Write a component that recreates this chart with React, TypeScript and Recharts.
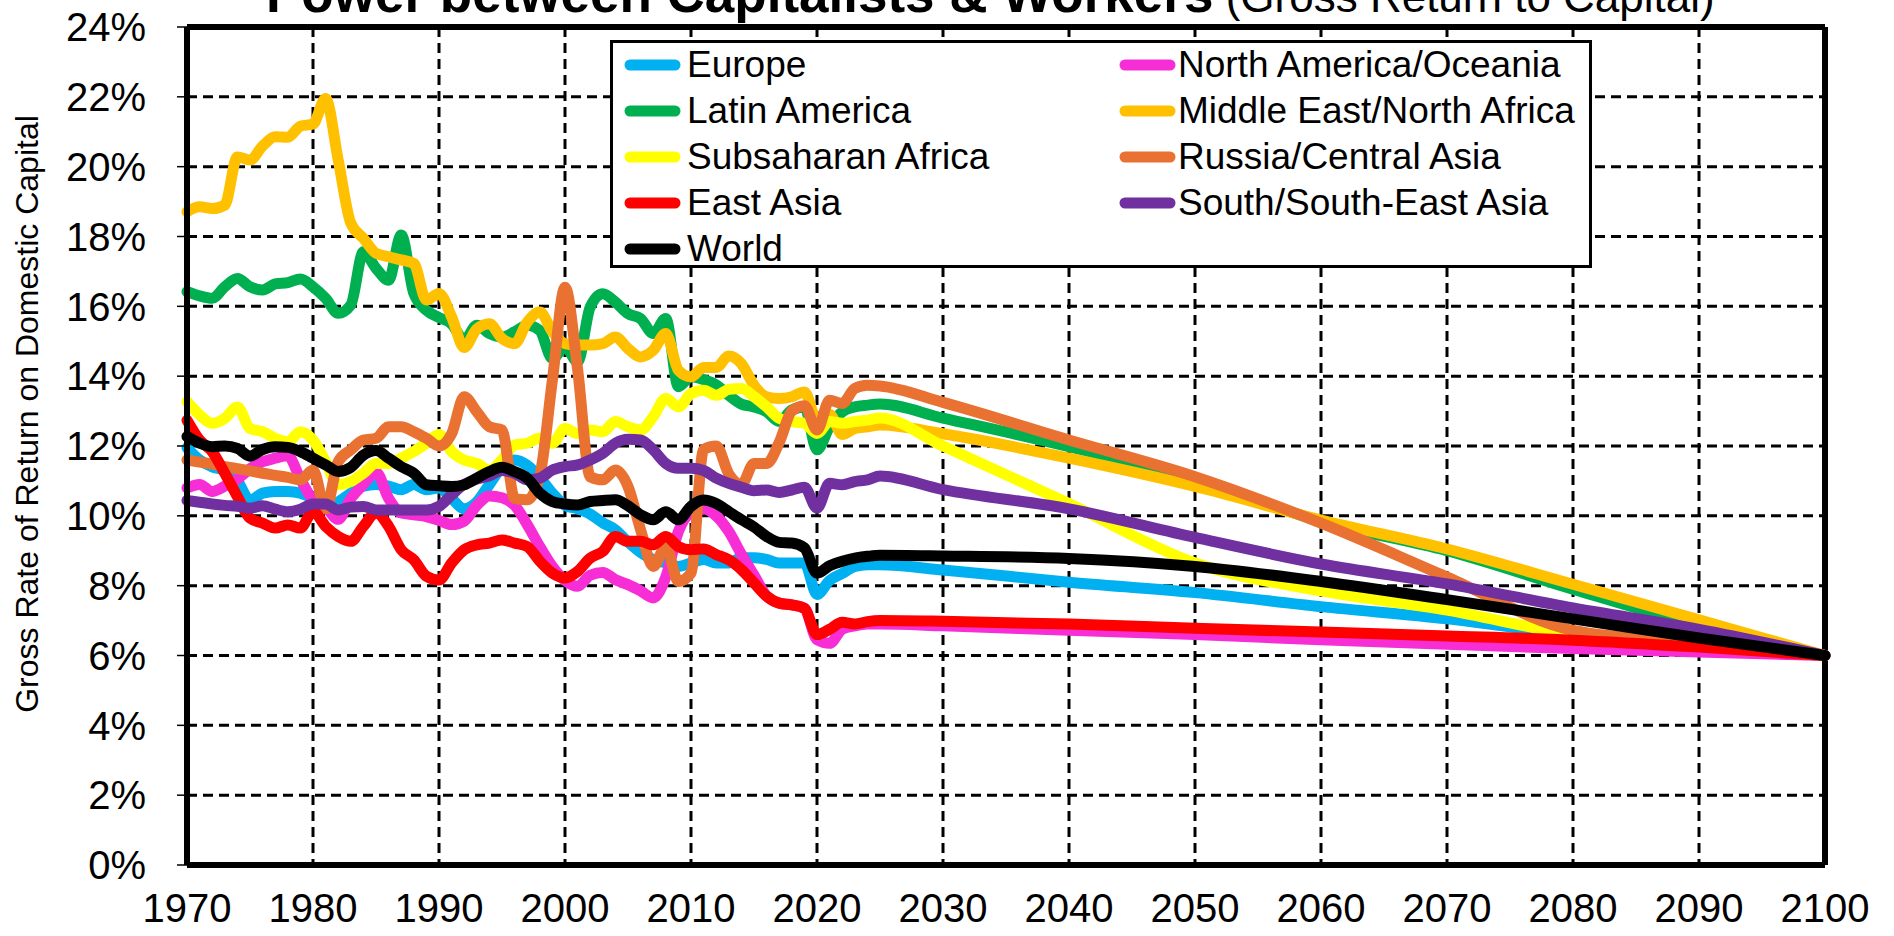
import React from 'react';
import { LineChart, Line, XAxis, YAxis, CartesianGrid, Legend, ReferenceLine, Customized } from 'recharts';

const FONT = '"Liberation Sans", Arial, sans-serif';

// annual history 1970-2025, then the projection points
const years = [
  1970, 1971, 1972, 1973, 1974, 1975, 1976, 1977, 1978, 1979,
  1980, 1981, 1982, 1983, 1984, 1985, 1986, 1987, 1988, 1989,
  1990, 1991, 1992, 1993, 1994, 1995, 1996, 1997, 1998, 1999,
  2000, 2001, 2002, 2003, 2004, 2005, 2006, 2007, 2008, 2009,
  2010, 2011, 2012, 2013, 2014, 2015, 2016, 2017, 2018, 2019,
  2020, 2021, 2022, 2023, 2024, 2025,
  2030, 2040, 2050, 2060, 2070, 2080, 2090, 2100,
];

const europe = [
  11.95, 11.6, 11.4, 11.3, 11.0, 10.45, 10.65, 10.7, 10.7, 10.65,
  10.5, 10.3, 10.4, 10.65, 10.85, 10.9, 10.85, 10.75, 10.9, 10.75,
  10.8, 10.5, 10.2, 10.4, 10.9, 11.4, 11.6, 11.45, 11.1, 10.65,
  10.3, 10.2, 10.05, 9.8, 9.6, 9.25, 8.95, 8.75, 8.65, 8.55,
  8.65, 8.75, 8.65, 8.65, 8.8, 8.8, 8.75, 8.65, 8.65, 8.65,
  7.75, 8.15, 8.35, 8.55, 8.6, 8.6,
  8.45, 8.1, 7.8, 7.4, 7.05, 6.6, 6.3, 6.0,
];

const northAmerica = [
  10.8, 10.9, 10.7, 10.85, 11.05, 11.35, 11.55, 11.65, 11.72, 11.05,
  10.45, 10.25, 9.9, 10.5, 10.9, 11.25, 10.5, 10.08, 10.03, 9.98,
  9.87, 9.75, 9.85, 10.3, 10.57, 10.52, 10.3, 9.75, 9.12, 8.55,
  8.15, 7.98, 8.3, 8.38, 8.17, 8.03, 7.85, 7.65, 8.25, 9.55,
  10.1, 10.2, 10.0, 9.55, 8.9, 8.3, 7.7, 7.5, 7.45, 7.35,
  6.45, 6.35, 6.75, 6.85, 6.9, 6.9,
  6.85, 6.72, 6.6, 6.45, 6.32, 6.2, 6.1, 6.0,
];

const latinAmerica = [
  16.42, 16.3, 16.23, 16.56, 16.8, 16.56, 16.47, 16.64, 16.68, 16.78,
  16.56, 16.23, 15.8, 16.04, 17.56, 17.09, 16.75, 18.04, 16.37, 15.89,
  15.68, 15.5, 15.03, 15.46, 15.22, 15.12, 15.27, 15.46, 15.31, 14.5,
  14.84, 14.41, 15.98, 16.36, 16.12, 15.79, 15.65, 15.22, 15.65, 13.7,
  13.98, 13.9, 13.75, 13.45, 13.2, 13.12, 12.98, 12.7, 13.03, 13.12,
  11.89, 12.55, 12.98, 13.12, 13.17, 13.2,
  12.8, 11.98, 11.03, 9.84, 9.0, 7.9, 6.85, 6.0,
];

const middleEast = [
  18.71, 18.85, 18.8, 18.9, 20.28, 20.19, 20.59, 20.86, 20.84, 21.16,
  21.22, 21.95, 20.19, 18.38, 17.95, 17.52, 17.42, 17.33, 17.23, 16.18,
  16.37, 15.7, 14.82, 15.35, 15.5, 15.08, 14.93, 15.55, 15.84, 15.27,
  14.93, 14.89, 14.89, 14.93, 15.12, 14.79, 14.55, 14.74, 15.22, 14.17,
  13.98, 14.25, 14.25, 14.58, 14.36, 13.74, 13.41, 13.36, 13.41, 13.55,
  12.74, 12.9, 12.33, 12.5, 12.55, 12.6,
  12.35, 11.65, 10.84, 9.88, 9.05, 8.04, 7.02, 6.0,
];

const subsaharan = [
  13.27, 12.89, 12.65, 12.79, 13.12, 12.5, 12.41, 12.22, 12.12, 12.41,
  12.17, 11.55, 10.89, 10.98, 11.22, 11.5, 11.5, 11.65, 11.84, 12.08,
  12.33, 11.84, 11.6, 11.5, 11.31, 11.6, 12.03, 12.08, 12.22, 12.08,
  12.5, 12.36, 12.46, 12.41, 12.7, 12.55, 12.46, 12.84, 13.36, 13.12,
  13.5, 13.6, 13.45, 13.62, 13.65, 13.41, 13.12, 12.79, 12.7, 12.65,
  12.36, 12.7, 12.65, 12.7, 12.74, 12.8,
  12.0, 10.35, 8.65, 7.85, 7.3, 6.6, 6.3, 6.0,
];

const russia = [
  11.6, 11.54, 11.48, 11.41, 11.35, 11.29, 11.22, 11.16, 11.1, 11.03,
  11.31, 10.2, 11.55, 11.89, 12.17, 12.22, 12.55, 12.55, 12.41, 12.22,
  12.0, 12.35, 13.41, 12.98, 12.55, 12.46, 10.5, 10.46, 11.15, 13.89,
  16.55, 14.2, 11.12, 11.03, 11.31, 10.84, 9.6, 8.55, 9.12, 8.12,
  8.36, 11.9, 12.0, 11.2, 10.9, 11.5, 11.5, 12.1, 13.0, 13.15,
  12.46, 13.31, 13.22, 13.65, 13.74, 13.72,
  13.25, 12.17, 11.12, 9.79, 8.25, 6.72, 6.36, 6.0,
];

const eastAsia = [
  12.74, 12.17, 11.84, 11.22, 10.55, 9.93, 9.79, 9.65, 9.74, 9.65,
  10.12, 9.7, 9.41, 9.27, 9.7, 10.08, 9.7, 9.03, 8.74, 8.27,
  8.16, 8.65, 9.03, 9.17, 9.22, 9.31, 9.22, 9.12, 8.7, 8.36,
  8.22, 8.41, 8.79, 8.98, 9.41, 9.27, 9.27, 9.17, 9.41, 9.12,
  9.03, 9.05, 8.89, 8.74, 8.46, 8.08, 7.7, 7.5, 7.45, 7.35,
  6.6, 6.75, 6.95, 6.9, 6.97, 7.0,
  6.98, 6.9, 6.78, 6.67, 6.56, 6.44, 6.24, 6.0,
];

const southAsia = [
  10.44, 10.39, 10.34, 10.3, 10.27, 10.22, 10.29, 10.19, 10.12, 10.19,
  10.34, 10.34, 10.17, 10.25, 10.27, 10.17, 10.17, 10.17, 10.17, 10.17,
  10.27, 10.6, 10.9, 11.05, 11.15, 11.3, 11.22, 11.03, 11.08, 11.31,
  11.41, 11.46, 11.6, 11.79, 12.08, 12.19, 12.17, 11.89, 11.5, 11.36,
  11.36, 11.3, 11.08, 10.93, 10.82, 10.72, 10.74, 10.67, 10.74, 10.82,
  10.22, 10.93, 10.89, 10.98, 11.03, 11.14,
  10.75, 10.2, 9.38, 8.62, 8.05, 7.36, 6.75, 6.0,
];

const world = [
  12.27, 12.08, 11.98, 12.0, 11.93, 11.71, 11.9, 11.98, 11.96, 11.84,
  11.65, 11.46, 11.27, 11.39, 11.74, 11.87, 11.65, 11.41, 11.22, 10.89,
  10.86, 10.84, 10.89, 11.08, 11.27, 11.39, 11.27, 11.08, 10.65, 10.41,
  10.34, 10.31, 10.41, 10.44, 10.46, 10.29, 10.03, 9.89, 10.12, 9.89,
  10.27, 10.45, 10.35, 10.12, 9.89, 9.68, 9.41, 9.24, 9.22, 9.08,
  8.36, 8.57, 8.7, 8.79, 8.84, 8.87,
  8.85, 8.78, 8.55, 8.12, 7.6, 7.05, 6.5, 6.0,
];

const xTicks = [1970, 1980, 1990, 2000, 2010, 2020, 2030, 2040, 2050, 2060, 2070, 2080, 2090, 2100];
const yTicks = [0, 2, 4, 6, 8, 10, 12, 14, 16, 18, 20, 22, 24];

// drawing order matches the original workbook (World on top)
const series = [
  { key: 'europe', name: 'Europe', color: '#00B0F0', values: europe },
  { key: 'northAmerica', name: 'North America/Oceania', color: '#F72DD6', values: northAmerica },
  { key: 'latinAmerica', name: 'Latin America', color: '#00B050', values: latinAmerica },
  { key: 'middleEast', name: 'Middle East/North Africa', color: '#FFC000', values: middleEast },
  { key: 'subsaharan', name: 'Subsaharan Africa', color: '#FFFF00', values: subsaharan },
  { key: 'russia', name: 'Russia/Central Asia', color: '#E97132', values: russia },
  { key: 'eastAsia', name: 'East Asia', color: '#FF0000', values: eastAsia },
  { key: 'southAsia', name: 'South/South-East Asia', color: '#7030A0', values: southAsia },
  { key: 'world', name: 'World', color: '#000000', values: world },
];

const data = years.map((year, i) => {
  const row: Record<string, number> = { year };
  series.forEach(s => {
    row[s.key] = s.values[i];
  });
  return row;
});

// legend is laid out in two columns, left column first
const legendLeft = ['europe', 'latinAmerica', 'subsaharan', 'eastAsia', 'world'];
const legendRight = ['northAmerica', 'middleEast', 'russia', 'southAsia'];

const LegendBox = () => {
  const entry = (key: string, row: number, col: number) => {
    const s = series.find(item => item.key === key)!;
    const swatchLeft = col === 0 ? 12 : 507;
    const textLeft = col === 0 ? 74 : 565;
    const cy = 21.6 + row * 46.2;
    return (
      <React.Fragment key={key}>
        <svg
          width={60}
          height={14}
          style={{ position: 'absolute', left: swatchLeft - 3, top: cy - 7, overflow: 'visible' }}
        >
          <line x1={8} y1={7} x2={53} y2={7} stroke={s.color} strokeWidth={11} strokeLinecap="round" />
        </svg>
        <div
          style={{
            position: 'absolute',
            left: textLeft,
            top: cy - 22,
            height: 44,
            lineHeight: '44px',
            fontSize: 37,
            fontFamily: FONT,
            color: '#000',
            whiteSpace: 'nowrap',
          }}
        >
          {s.name}
        </div>
      </React.Fragment>
    );
  };

  return (
    <div
      style={{
        position: 'relative',
        width: 982,
        height: 228,
        boxSizing: 'border-box',
        border: '3px solid #000',
        background: '#fff',
      }}
    >
      {legendLeft.map((k, i) => entry(k, i, 0))}
      {legendRight.map((k, i) => entry(k, i, 1))}
    </div>
  );
};

const Labels = () => (
  <g>
    <text x={266} y={12} fontFamily={FONT} fill="#000">
      <tspan fontSize={53} fontWeight="bold">Power between Capitalists &amp; Workers</tspan>
      <tspan fontSize={44}> (Gross Return to Capital)</tspan>
    </text>
    <text
      x={27}
      y={414}
      transform="rotate(-90, 27, 414)"
      textAnchor="middle"
      dominantBaseline="central"
      fontFamily={FONT}
      fontSize={32}
      fill="#000"
    >
      Gross Rate of Return on Domestic Capital
    </text>
  </g>
);

const App: React.FC = () => {
  return (
    <div style={{ position: 'absolute', left: 0, top: 0, width: 1894, height: 936, background: '#fff' }}>
      <LineChart
        width={1894}
        height={936}
        data={data}
        margin={{ top: 27, right: 69, bottom: 0, left: 0 }}
      >
        <CartesianGrid stroke="#000" strokeWidth={3} strokeDasharray="10 6" />
        <XAxis
          dataKey="year"
          type="number"
          domain={[1970, 2100]}
          ticks={xTicks}
          interval={0}
          height={71}
          tickLine={false}
          tickSize={10}
          tickMargin={19}
          axisLine={{ stroke: '#000', strokeWidth: 6 }}
          tick={{ fill: '#000', fontSize: 40, fontFamily: FONT }}
        />
        <YAxis
          type="number"
          domain={[0, 24]}
          ticks={yTicks}
          interval={0}
          width={187}
          tickSize={10}
          tickMargin={31}
          tickFormatter={(v: number) => `${v}%`}
          axisLine={{ stroke: '#000', strokeWidth: 6 }}
          tickLine={{ stroke: '#000', strokeWidth: 1.5 }}
          tick={{ fill: '#000', fontSize: 40, fontFamily: FONT }}
        />
        <ReferenceLine y={24} stroke="#000" strokeWidth={6} />
        <ReferenceLine x={2100} stroke="#000" strokeWidth={6} />
        <Legend
          layout="horizontal"
          align="center"
          verticalAlign="middle"
          content={() => <LegendBox />}
          wrapperStyle={{ left: 610, top: 40, width: 982, height: 228 }}
        />
        {series.map(s => (
          <Line
            key={s.key}
            type="monotone"
            dataKey={s.key}
            name={s.name}
            stroke={s.color}
            strokeWidth={11}
            strokeLinecap="round"
            strokeLinejoin="round"
            dot={false}
            activeDot={false}
            isAnimationActive={false}
          />
        ))}
        <Customized component={<Labels />} />
      </LineChart>
    </div>
  );
};

export default App;
